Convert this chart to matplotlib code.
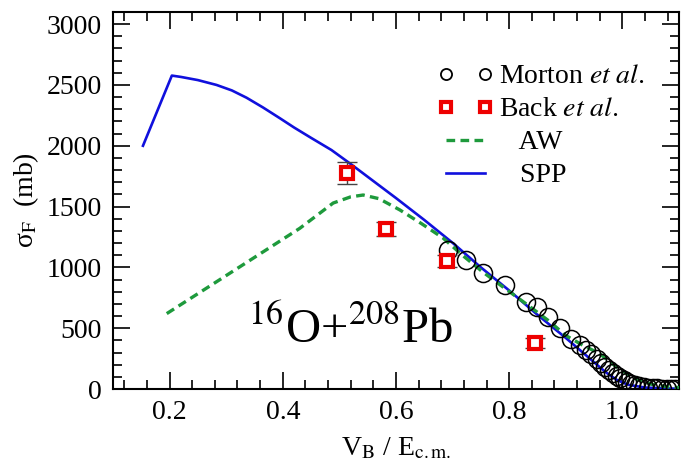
import numpy as np
import matplotlib
matplotlib.use("Agg")
import matplotlib.pyplot as plt
from matplotlib.ticker import MultipleLocator, FormatStrFormatter
from matplotlib.lines import Line2D
from matplotlib.legend_handler import HandlerLine2D

plt.rcParams['font.family'] = ['Liberation Serif', 'DejaVu Serif']
plt.rcParams['mathtext.fontset'] = 'stix'

# SPP curve
spp_x = [0.153, 0.204, 0.22, 0.25, 0.283, 0.31, 0.336, 0.365, 0.395, 0.42, 0.45,
         0.486, 0.52, 0.55, 0.60, 0.65, 0.701, 0.75, 0.80, 0.85, 0.90, 0.93,
         0.95, 0.97, 0.99, 1.01, 1.04, 1.07, 1.10]
spp_y = [2000, 2577, 2566, 2540, 2500, 2455, 2395, 2315, 2226, 2150, 2065,
         1965, 1850, 1745, 1570, 1390, 1198, 1000, 810, 610, 420, 300,
         220, 140, 75, 35, 12, 5, 2]

# AW curve
aw_x = [0.195, 0.283, 0.43, 0.489, 0.52, 0.542, 0.57, 0.607, 0.645, 0.683, 0.72,
        0.754, 0.789, 0.83, 0.87, 0.90, 0.93, 0.96, 0.99, 1.02, 1.05, 1.08, 1.10]
aw_y = [620, 882, 1321, 1529, 1580, 1595, 1565, 1472, 1360, 1242, 1090,
        960, 839, 700, 560, 440, 360, 290, 180, 90, 40, 18, 12]

# Morton et al.
morton_x = [0.692, 0.723, 0.753, 0.793, 0.830, 0.849, 0.869, 0.89, 0.91, 0.925,
            0.935, 0.945, 0.955, 0.963, 0.97, 0.977, 0.984, 0.99, 0.996, 1.002,
            1.008, 1.015, 1.022, 1.03, 1.038, 1.046, 1.054, 1.062, 1.07, 1.078,
            1.086, 1.093]
morton_y = [1143, 1061, 951, 855, 718, 677, 595, 500, 410, 360,
            320, 285, 250, 215, 185, 160, 135, 110, 92, 75,
            60, 45, 35, 25, 18, 12, 8, 5, 3, 2,
            1, 1]

# Back et al.
back_x = [0.513, 0.583, 0.690, 0.846]
back_y = [1774, 1316, 1055, 376]
back_err = [90, 55, 50, 40]

blue = '#1010dd'
green = '#1e9a3c'
red = '#ee0000'

fig = plt.figure(figsize=(6.91, 4.68), dpi=100)
ax = fig.add_axes([0.1635, 0.1688, 0.8191, 0.8056])

ax.plot(spp_x, spp_y, color=blue, lw=1.9, zorder=3)
ax.plot(aw_x, aw_y, color=green, lw=2.4, ls=(0, (2.6, 1.6)), zorder=3)
ax.plot(morton_x, morton_y, ls='none', marker='o', ms=13, mfc='none', mec='black',
        mew=1.1, zorder=4)
ax.errorbar(back_x, back_y, yerr=back_err, ls='none', ecolor='#444444',
            elinewidth=1, capsize=7, zorder=5)
ax.plot(back_x, back_y, ls='none', marker='s', ms=9, mfc='white', mec=red, mew=3, zorder=6)

ax.text(0.519, 485, r'$^{16}$O+$^{208}$Pb', fontsize=35, ha='center', va='center')

ax.set_xlim(0.1, 1.1)
ax.set_ylim(0, 3100)
ax.xaxis.set_major_locator(MultipleLocator(0.2))
ax.xaxis.set_minor_locator(MultipleLocator(0.04))
ax.xaxis.set_major_formatter(FormatStrFormatter('%.1f'))
ax.yaxis.set_minor_locator(MultipleLocator(100))
ax.set_yticks(np.arange(0, 3001, 500))
ax.tick_params(which='both', direction='in', top=True, right=True, labelsize=20, width=1.2)
ax.tick_params(which='major', length=12.5, pad=8)
ax.tick_params(which='minor', length=6.5)
for s in ax.spines.values():
    s.set_linewidth(1.5)

ax.set_xlabel(r'V$_{\rm B}$ / E$_{\rm c.m.}$', fontsize=20, labelpad=8)
ax.set_ylabel('\u03c3$_{\\rm F}$  (mb)', fontsize=20, labelpad=4)

handles = [
    Line2D([], [], ls='none', marker='o', ms=8, mfc='none', mec='black', mew=1.3),
    Line2D([], [], ls='none', marker='s', ms=6.5, mfc='white', mec=red, mew=3),
    Line2D([], [], color=green, lw=2.4, ls=(0, (2.6, 1.6))),
    Line2D([], [], color=blue, lw=1.9),
]
labels = [r'Morton $\mathit{et\ al.}$', r'Back $\mathit{et\ al.}$', '   AW', '   SPP']
ax.legend(handles, labels, loc='upper left', bbox_to_anchor=(0.588, 0.862),
          frameon=False, fontsize=20, numpoints=2, handlelength=1.4,
          handletextpad=0.5, labelspacing=0.27, borderpad=0, borderaxespad=0,
          handler_map={Line2D: HandlerLine2D(marker_pad=0)})

fig.savefig('out.png', dpi=100)
